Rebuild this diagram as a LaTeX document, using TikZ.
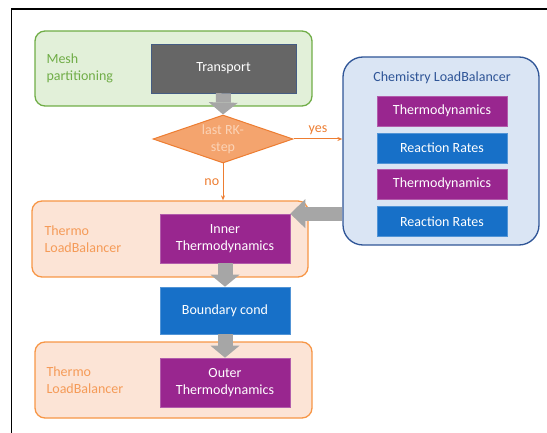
\documentclass[tikz,border=0pt]{standalone}
\usepackage{fontspec}
\setmainfont{Carlito}
\usetikzlibrary{shapes.geometric,arrows.meta}

\definecolor{meshline}{HTML}{70AD47}
\definecolor{meshfill}{HTML}{E2F0D9}
\definecolor{transgray}{HTML}{666666}
\definecolor{rkline}{HTML}{ED7D31}
\definecolor{rkfill}{HTML}{F4A46E}
\definecolor{rktext}{HTML}{FBD3B6}
\definecolor{thermoline}{HTML}{F79646}
\definecolor{thermofill}{HTML}{FCE4D6}
\definecolor{thermotext}{HTML}{F59B58}
\definecolor{chemline}{HTML}{2F5597}
\definecolor{chemfill}{HTML}{DAE5F4}
\definecolor{thermopurple}{HTML}{99268F}
\definecolor{rateblue}{HTML}{1770C8}
\definecolor{arrowgray}{HTML}{A6A6A6}

\begin{document}
\begin{tikzpicture}[x=1pt, y=-1pt,
    every node/.style={font=\fontsize{14}{17}\selectfont},
    panel/.style={draw, line width=1.3pt, rounded corners=10pt, inner sep=0pt},
    task/.style={fill=#1, draw=#1!75!white, line width=0.6pt, text=white,
        minimum width=130pt, inner sep=0pt, align=center},
    blockarrow/.style={draw=arrowgray, line width=15pt,
        -{Triangle[width=29pt, length=12pt, line width=0pt]}},
    flow/.style={draw=rkline, line width=1pt, -{Stealth[length=5pt, width=4pt]}}]
            \useasboundingbox (0,0) rectangle (547,433);
            % Frame
            \draw[line width=1.2pt] (11.5,433) -- (11.5,9) -- (547,9);

            % Define the nodes
            \node[panel, draw=meshline, fill=meshfill, minimum width=277pt, minimum height=75pt] (mesh) at (173.5,68.5) {};
            \node[text=meshline, anchor=west, align=left] (meshlbl) at (43,68.5) {Mesh\\partitioning};
            \node[task=transgray, draw=chemline!60!transgray, minimum width=145pt, minimum height=49pt] (transport) at (223.5,68.5) {Transport};

            \node[diamond, aspect=2.9, draw=rkline, fill=rkfill, line width=1pt, minimum width=140pt, minimum height=48pt,
                inner sep=0pt, text=rktext, align=center] (rk) at (223,139) {last RK-\\step};

            \node[panel, draw=chemline, fill=chemfill, rounded corners=20pt, minimum width=196pt, minimum height=188pt] (chem) at (441,151) {};
            \node[text=chemline] (chemlbl) at (442,78) {Chemistry LoadBalancer};
            \node[task=thermopurple, minimum height=30pt] (thermoA) at (442,111) {Thermodynamics};
            \node[task=rateblue, minimum height=30pt] (rateA) at (442,148) {Reaction Rates};
            \node[task=thermopurple, minimum height=30pt] (thermoB) at (442,184) {Thermodynamics};
            \node[task=rateblue, minimum height=30pt] (rateB) at (442,221.5) {Reaction Rates};

            \node[panel, draw=thermoline, fill=thermofill, minimum width=276pt, minimum height=76pt] (innerlb) at (170,239) {};
            \node[text=thermotext, anchor=west, align=left] (innerlbl) at (41,239) {Thermo\\LoadBalancer};
            \node[task=thermopurple, minimum height=49pt] (inner) at (225,238.5) {Inner\\Thermodynamics};

            \node[task=rateblue, minimum height=47pt] (bc) at (225,310.5) {Boundary cond};

            \node[panel, draw=thermoline, fill=thermofill, minimum width=277pt, minimum height=76pt] (outerlb) at (173.5,380) {};
            \node[text=thermotext, anchor=west, align=left] (outerlbl) at (43,380) {Thermo\\LoadBalancer};
            \node[task=thermopurple, minimum height=49pt] (outer) at (225,382.5) {Outer\\Thermodynamics};

            % Draw the edges
            \draw[flow] (rk.east) -- (chem.west |- rk.east) node[midway, above, text=rkline] (yeslbl) {yes};
            \draw[flow] (rk.south) -- (rk.south |- innerlb.north) node[midway, left, text=rkline] (nolbl) {no};

            % Gray block arrows
            \draw[blockarrow] (transport.south) -- (rk.north);
            \draw[blockarrow] (inner.south) -- (bc.north);
            \draw[blockarrow] (bc.south) -- (outer.north);
            \draw[blockarrow, line width=14pt, -{Triangle[width=29pt, length=15pt, line width=0pt]}]
                (chem.west |- inner.north east) -- (inner.north east);
            \end{tikzpicture}
\end{document}
